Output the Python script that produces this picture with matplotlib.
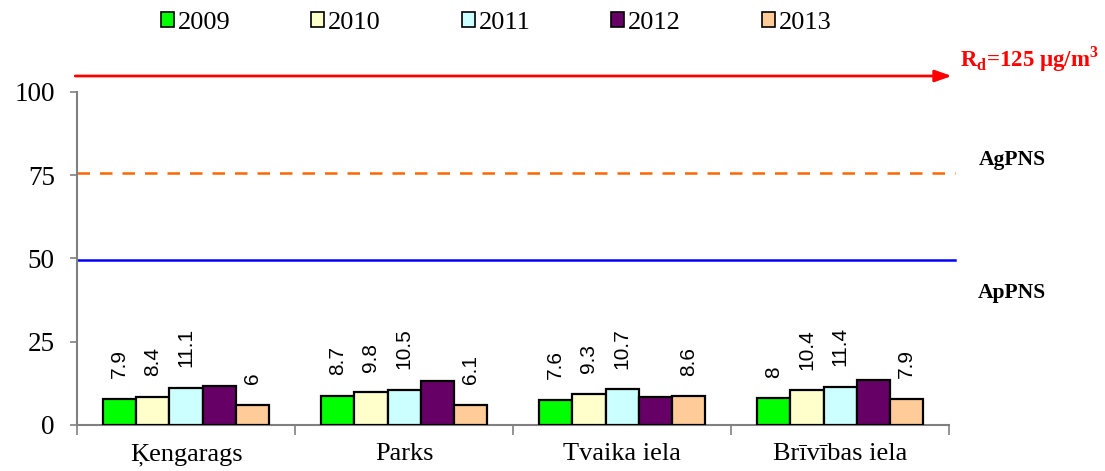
import matplotlib
matplotlib.use("Agg")
import matplotlib.pyplot as plt
import numpy as np
from matplotlib.patches import Patch

categories = ["Ķengarags", "Parks", "Tvaika iela", "Brīvības iela"]
years = ["2009", "2010", "2011", "2012", "2013"]
values = {
    "2009": [7.9, 8.7, 7.6, 8.0],
    "2010": [8.4, 9.8, 9.3, 10.4],
    "2011": [11.1, 10.5, 10.7, 11.4],
    "2012": [11.7, 13.3, 8.3, 13.4],
    "2013": [6.0, 6.1, 8.6, 7.9],
}
labeled_years = ["2009", "2010", "2011", "2013"]
colors = ["#00FF00", "#FFFFCC", "#CCFFFF", "#660066", "#FFCC99"]
yticks = [0, 25, 50, 75, 100]
appns = 49.5
agpns = 75.7
rd_line = 104.8

fig = plt.figure(figsize=(11.05, 4.71), dpi=100)
ax = fig.add_axes([0.0697, 0.0977, 0.7893, 0.707])

n = len(categories)
x = np.arange(n)
bw = 0.152
for i, (yr, c) in enumerate(zip(years, colors)):
    pos = x + (i - 2) * bw
    bars = ax.bar(pos, values[yr], width=bw, color=c, edgecolor="black", linewidth=1.6, zorder=3)
    if yr in labeled_years:
        for b, v in zip(bars, values[yr]):
            txt = f"{v:g}"
            ax.annotate(txt, (b.get_x() + b.get_width() / 2, v), xytext=(0, 15),
                        textcoords="offset points", rotation=90, ha="center", va="bottom",
                        fontsize=15, family="Liberation Sans", color="black")

ax.set_xlim(-0.5, n - 0.5)
ax.set_ylim(0, 100)
ax.set_yticks(yticks)
ax.set_yticklabels([str(t) for t in yticks], family="Liberation Serif", fontsize=19.5)
ax.set_xticks(x)
ax.set_xticklabels(categories, family="Liberation Serif", fontsize=19)
ax.set_xticks(np.arange(n + 1) - 0.5, minor=True)
ax.tick_params(axis="x", which="major", length=0, pad=13)
ax.tick_params(axis="x", which="minor", length=7, color="#808080", width=1.2, direction="out")
ax.tick_params(axis="y", length=5, color="#808080", width=1.2, direction="out", pad=11)
for s in ["top", "right"]:
    ax.spines[s].set_visible(False)
for s in ["left", "bottom"]:
    ax.spines[s].set_color("#808080")
    ax.spines[s].set_linewidth(1.5)

trans = ax.get_yaxis_transform()
ax.plot([0, 1.007], [appns, appns], transform=trans, color="#0000FF", lw=1.8, clip_on=False, zorder=2)
ax.plot([0, 1.007], [agpns, agpns], transform=trans, color="#FF6600", lw=1.8, ls=(0, (5, 4)), clip_on=False, zorder=2)
ax.annotate("", xy=(1.003, rd_line), xytext=(-0.002, rd_line), xycoords=trans, textcoords=trans,
            arrowprops=dict(arrowstyle="-|>,head_length=1.0,head_width=0.35", color="#FF0000", lw=2,
                            shrinkA=0, shrinkB=0),
            annotation_clip=False)

ax.text(1.072, 79.6, "AgPNS", transform=trans, ha="center", va="center",
        family="Liberation Serif", fontweight="bold", fontsize=15.5, clip_on=False)
ax.text(1.072, 39.6, "ApPNS", transform=trans, ha="center", va="center",
        family="Liberation Serif", fontweight="bold", fontsize=15.5, clip_on=False)
ax.text(1.012, rd_line + 5.0, r"R$_\mathregular{d}$=125 µg/m$^\mathregular{3}$", transform=trans,
        ha="left", va="center", family="Liberation Serif", fontweight="bold", fontsize=16.5,
        color="#FF0000", clip_on=False)

handles = [Patch(facecolor=c, edgecolor="black", linewidth=1.2) for c in colors]
fig.legend(handles, years, loc="center", bbox_to_anchor=(0.449, 0.951), ncol=5, frameon=False,
           prop={"family": "Liberation Serif", "size": 19}, handlelength=0.5, handleheight=0.5,
           handletextpad=0.15, columnspacing=3.05)

fig.savefig("out.png", dpi=100)
